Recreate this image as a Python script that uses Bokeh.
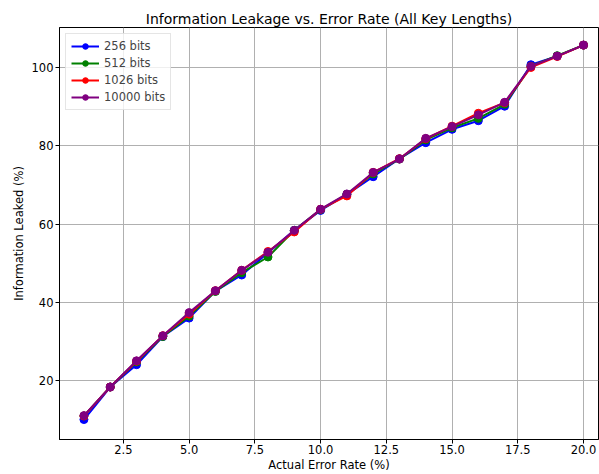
from bokeh.plotting import figure
from bokeh.models import FixedTicker, Range1d
from bokeh.embed import file_html
from bokeh.resources import INLINE

error_rate = list(range(1, 21))
leak_256 = [10.1, 18.4, 24.1, 31.3, 36.0, 42.9, 47.0, 52.7, 58.4, 63.5,
            67.6, 72.1, 76.7, 80.8, 84.2, 86.4, 90.1, 100.7, 102.9, 105.7]
leak_512 = [11.0, 18.4, 24.8, 31.3, 36.5, 42.8, 47.6, 51.6, 58.4, 63.7,
            67.6, 72.8, 76.6, 81.5, 84.6, 87.0, 90.6, 100.3, 103.0, 105.7]
leak_1026 = [11.0, 18.4, 25.0, 31.5, 37.0, 43.0, 48.2, 53.0, 58.0, 63.8,
             67.2, 73.2, 76.7, 81.8, 85.0, 88.3, 91.0, 100.0, 102.8, 105.7]
leak_10000 = [11.1, 18.4, 25.1, 31.5, 37.4, 43.0, 48.2, 52.8, 58.4, 63.8,
              67.7, 73.2, 76.6, 81.9, 84.9, 87.9, 91.1, 100.3, 102.9, 105.7]
series_labels = ["256 bits", "512 bits", "1026 bits", "10000 bits"]
x_ticks = [2.5, 5.0, 7.5, 10.0, 12.5, 15.0, 17.5, 20.0]
y_ticks = [20, 40, 60, 80, 100]

FONT = "DejaVu Sans"

p = figure(width=599, height=474, output_backend="svg", toolbar_location=None,
           x_range=Range1d(0.07, 20.57), y_range=Range1d(5.0, 110.2),
           min_border_left=59, min_border_right=1, min_border_top=27, min_border_bottom=34)

p.title.text = "Information Leakage vs. Error Rate (All Key Lengths)"
p.title.align = "center"
p.title.text_font = FONT
p.title.text_font_size = "14px"
p.title.text_font_style = "normal"
p.title.text_color = "black"
p.title.standoff = 2

colors = ["blue", "green", "red", "purple"]
for ys, c, lab in zip([leak_256, leak_512, leak_1026, leak_10000], colors, series_labels):
    p.line(error_rate, ys, line_color=c, line_width=2, legend_label=lab)
    p.scatter(error_rate, ys, marker="circle", size=8, fill_color=c, line_color=c, legend_label=lab)

for ax in (p.xaxis[0], p.yaxis[0]):
    ax.major_label_text_font = FONT
    ax.major_label_text_font_size = "11.5px"
    ax.major_label_text_color = "black"
    ax.axis_label_text_font = FONT
    ax.axis_label_text_font_size = "11.5px"
    ax.axis_label_text_font_style = "normal"
    ax.axis_label_text_color = "black"
    ax.major_tick_out = 4
    ax.major_tick_in = 0
    ax.minor_tick_out = 0
    ax.minor_tick_in = 0
    ax.major_tick_line_color = "black"
    ax.axis_line_color = "black"
    ax.major_label_standoff = 2
    ax.axis_label_standoff = 3

p.xaxis[0].major_label_standoff = 1
p.xaxis[0].axis_label_standoff = 1

p.xaxis[0].ticker = FixedTicker(ticks=x_ticks)
p.yaxis[0].ticker = FixedTicker(ticks=y_ticks)
p.xaxis[0].major_label_overrides = {t: f"{t:.1f}" for t in x_ticks}
p.xaxis.axis_label = "Actual Error Rate (%)"
p.yaxis.axis_label = "Information Leaked (%)"

p.xgrid.ticker = FixedTicker(ticks=x_ticks)
p.ygrid.ticker = FixedTicker(ticks=y_ticks)
for g in (p.xgrid[0], p.ygrid[0]):
    g.grid_line_color = "#b0b0b0"
    g.grid_line_width = 1

p.outline_line_color = "black"
p.outline_line_width = 1
p.background_fill_color = "white"
p.border_fill_color = "white"

lg = p.legend[0]
lg.location = "top_left"
lg.label_text_font = FONT
lg.label_text_font_size = "11.5px"
lg.glyph_height = 14
lg.label_height = 14
lg.glyph_width = 28
lg.spacing = 3
lg.padding = 5
lg.margin = 6
lg.border_line_color = "#cccccc"
lg.border_line_width = 1
lg.background_fill_alpha = 0.8

open("out.html", "w").write(file_html(p, INLINE))
